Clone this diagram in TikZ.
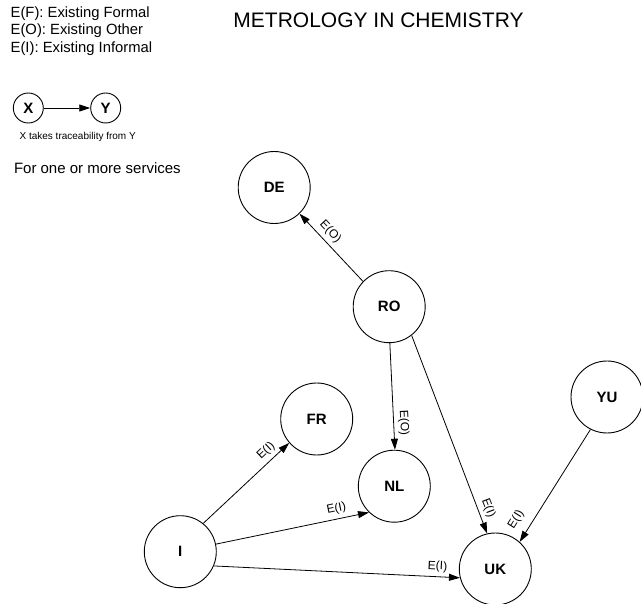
\documentclass[tikz,border=0pt]{standalone}
\usepackage{fontspec}
\setmainfont{Liberation Sans}
\usetikzlibrary{arrows.meta}
\begin{document}
\begin{tikzpicture}[x=1pt,y=-1pt,
  country/.style={circle,draw,line width=0.9pt,minimum size=72pt,inner sep=0pt,
    font=\fontsize{15}{18}\selectfont\bfseries},
  keynode/.style={circle,draw,line width=0.9pt,minimum size=30pt,inner sep=0pt,
    font=\fontsize{15}{18}\selectfont\bfseries},
  link/.style={line width=0.8pt,-{Triangle[length=11pt,width=7pt]}},
  elabel/.style={font=\fontsize{12}{14}\selectfont,sloped,above=3pt,inner sep=1pt},
  legendtext/.style={anchor=base west,inner sep=0pt,font=\fontsize{14.8}{17}\selectfont}
]
\useasboundingbox (0,0) rectangle (641,604);

% title and legend
\node[anchor=base,inner sep=0pt,font=\fontsize{21}{25}\selectfont] (title) at (378.5,27.3) {METROLOGY IN CHEMISTRY};
\node[legendtext] (leg1) at (10.5,17.7) {E(F): Existing Formal};
\node[legendtext] (leg2) at (10.5,35.0) {E(O): Existing Other};
\node[legendtext] (leg3) at (10.5,52.3) {E(I): Existing Informal};

\node[keynode] (X) at (28.3,108) {X};
\node[keynode] (Y) at (105.7,108) {Y};
\draw[link] (X) -- (Y);
\node[anchor=base,inner sep=0pt,font=\fontsize{10}{12}\selectfont] (keycap) at (77.7,140) {X takes traceability from Y};
\node[legendtext,font=\fontsize{15}{18}\selectfont] (scope) at (13.8,174) {For one or more services};

% countries
\node[country] (DE) at (274.2,187.5) {DE};
\node[country] (RO) at (389.2,306.7) {RO};
\node[country] (FR) at (316.7,419) {FR};
\node[country] (NL) at (394.3,486.2) {NL};
\node[country] (I)  at (180.3,551.7) {I};
\node[country] (UK) at (495.3,569) {UK};
\node[country] (YU) at (607,397) {YU};

% traceability links
\draw[link] (RO.136.9) -- node[elabel,pos=0.63] {E(O)} (DE.-46);
\draw[link] (RO.-89) -- node[elabel,pos=0.75] {E(O)} (NL.89);
\draw[link] (RO.-52.4) -- node[elabel,pos=0.89] {E(I)} (UK.103.5);
\draw[link] (YU.-117.8) -- node[elabel,pos=0.87,above=5pt] {E(I)} (UK.48.7);
\draw[link] (I.51.5) -- node[elabel,pos=0.81] {E(I)} (FR.221.3);
\draw[link] (I.12.8) -- node[elabel,pos=0.80] {E(I)} (NL.226.7);
\draw[link] (I.-23.5) -- node[elabel,pos=0.907] {E(I)} (UK.194.8);
\end{tikzpicture}
\end{document}
